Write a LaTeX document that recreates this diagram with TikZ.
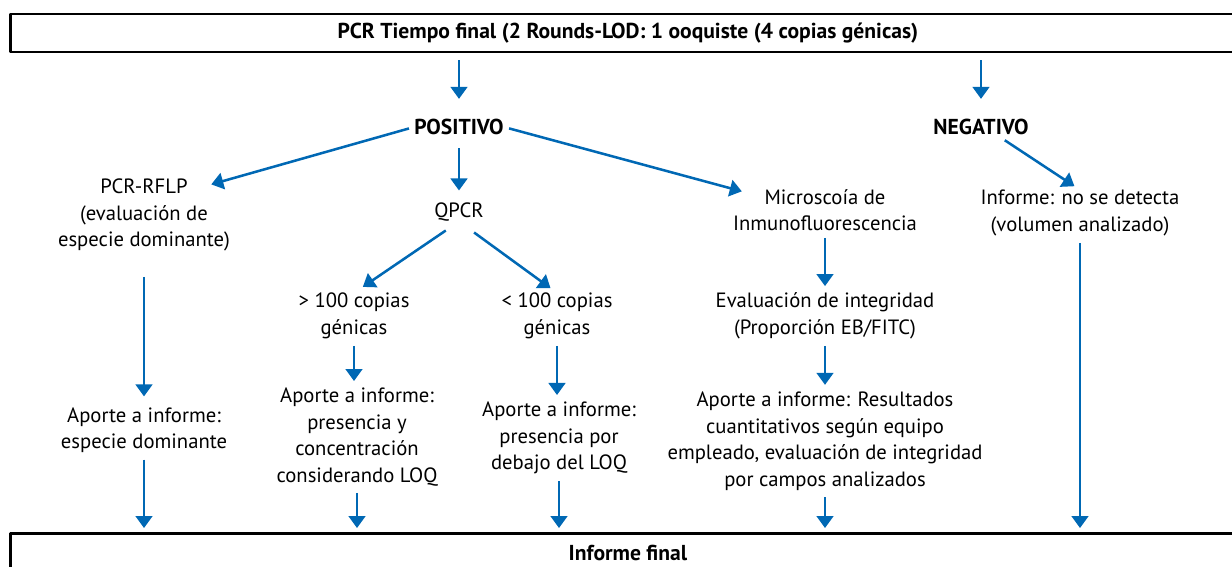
\documentclass[tikz,border=0pt]{standalone}
\usepackage{fontspec}
\setmainfont{PT Sans}
\usetikzlibrary{arrows.meta}
\definecolor{azul}{RGB}{0,104,180}
\newcommand\fnt{\fontsize{15.5pt}{19.9pt}\selectfont}
\newcommand\fntb{\fontsize{16.2pt}{19.9pt}\selectfont\bfseries}
\tikzset{
  caja/.style={draw,line width=2.2pt,minimum width=926pt,minimum height=28.5pt,inner sep=0pt,font=\fntb},
  txt/.style={align=center,inner sep=0pt,font=\fnt},
  negrita/.style={txt,font=\fntb},
  arr/.style={azul,line width=1.9pt,-{Triangle[width=12.5pt,length=9pt]},shorten <=5pt,shorten >=5pt}
}
\begin{document}
\begin{tikzpicture}[x=0.75pt,y=-0.75pt,line join=round]
\useasboundingbox (0,0) rectangle (1232,567);
%==Cajas y textos
\node[caja] (top) at (628,33) {PCR Tiempo final (2 Rounds-LOD: 1 ooquiste (4 copias génicas)};
\node[negrita] (pos) at (459,127) {POSITIVO};
\node[negrita] (neg) at (981,127) {NEGATIVO};
\node[txt] (rflp) at (144,215) {PCR-RFLP\\(evaluación de\\especie dominante)};
\node[txt] (qpcr) at (459,212) {QPCR};
\node[txt] (mas) at (354,316) {> 100 copias\\génicas};
\node[txt] (menos) at (557,316) {< 100 copias\\génicas};
\node[txt] (micro) at (825,210) {Microscoía de\\Inmunofluorescencia};
\node[txt] (nodet) at (1080,213) {Informe: no se detecta\\(volumen analizado)};
\node[txt] (apR) at (144,430) {Aporte a informe:\\especie dominante};
\node[txt] (apMas) at (357,437) {Aporte a informe:\\presencia y\\concentración\\considerando LOQ};
\node[txt] (apMenos) at (559,438) {Aporte a informe:\\presencia por\\debajo del LOQ};
\node[txt] (eval) at (825,316) {Evaluación de integridad\\(Proporción EB/FITC)};
\node[txt] (apMic) at (825,441) {Aporte a informe: Resultados\\cuantitativos según equipo\\empleado, evaluación de integridad\\por campos analizados};
\node[caja,minimum height=29.25pt] (fin) at (628,553) {Informe final};
%==Flechas
\draw[arr,shorten >=15pt] (pos.north |- top.south) -- (pos.north);
\draw[arr,shorten >=15pt] (neg.north |- top.south) -- (neg.north);
\draw[arr,shorten <=4pt,shorten >=6pt] (pos.west) -- ([xshift=-20pt,yshift=-6pt]rflp.north east);
\draw[arr,shorten <=10pt,shorten >=9pt] (pos.south) -- (qpcr.north);
\draw[arr,shorten <=4pt,shorten >=-7pt] (pos.east) -- (micro.north west);
\draw[arr,shorten <=12pt,shorten >=8pt] (qpcr.south) -- (mas.north);
\draw[arr,shorten <=14pt,shorten >=6pt] (qpcr.south) -- (menos.north);
\draw[arr,shorten <=7pt] ([xshift=12pt]neg.south) -- (nodet.north);
\draw[arr,shorten <=19pt,shorten >=8pt] (rflp.south) -- (apR.north);
\draw[arr] (mas.south) -- (mas.south |- apMas.north);
\draw[arr] (menos.south) -- (menos.south |- apMenos.north);
\draw[arr] (micro.south) -- (eval.north);
\draw[arr] (eval.south) -- (apMic.north);
\foreach \n in {apR,apMas,apMenos,apMic,nodet}
  \draw[arr,shorten >=3pt] (\n.south) -- (\n.south |- fin.north);
\end{tikzpicture}
\end{document}
